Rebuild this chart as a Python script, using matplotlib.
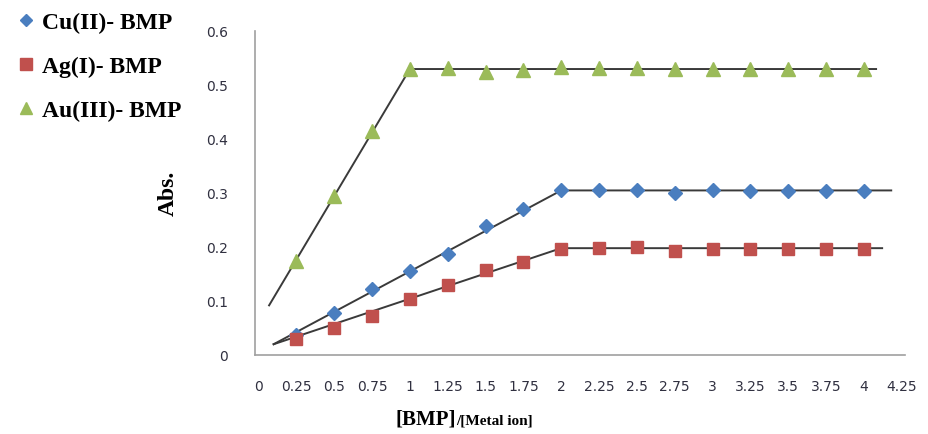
import matplotlib.pyplot as plt
from matplotlib.lines import Line2D

# mole ratio [BMP]/[Metal ion]
ratio = [0.25, 0.5, 0.75, 1, 1.25, 1.5, 1.75, 2, 2.25, 2.5, 2.75, 3, 3.25, 3.5, 3.75, 4]
cu_abs = [0.037, 0.078, 0.123, 0.156, 0.188, 0.240, 0.270, 0.305, 0.306, 0.306, 0.301, 0.306, 0.304, 0.304, 0.304, 0.304]
ag_abs = [0.030, 0.050, 0.072, 0.103, 0.130, 0.158, 0.172, 0.196, 0.198, 0.200, 0.192, 0.196, 0.196, 0.196, 0.196, 0.196]
au_abs = [0.175, 0.294, 0.416, 0.530, 0.531, 0.525, 0.528, 0.534, 0.531, 0.531, 0.530, 0.530, 0.530, 0.530, 0.530, 0.530]

# fitted lines (rise + plateau)
cu_fit_x = [0.1, 2, 4.18]
cu_fit_y = [0.02, 0.305, 0.305]
ag_fit_x = [0.1, 2, 4.12]
ag_fit_y = [0.02, 0.198, 0.198]
au_fit_x = [0.07, 1, 4.08]
au_fit_y = [0.092, 0.53, 0.53]

xticks = [0, 0.25, 0.5, 0.75, 1, 1.25, 1.5, 1.75, 2, 2.25, 2.5, 2.75, 3, 3.25, 3.5, 3.75, 4, 4.25]
xtick_labels = ['0', '0.25', '0.5', '0.75', '1', '1.25', '1.5', '1.75', '2', '2.25', '2.5', '2.75', '3', '3.25', '3.5', '3.75', '4', '4.25']
yticks = [0, 0.1, 0.2, 0.3, 0.4, 0.5, 0.6]

blue = '#4a7ebf'
red = '#c0504d'
green = '#9bbb59'
line_col = '#3a3a3a'

fig = plt.figure(figsize=(9.29, 4.34), dpi=100)
ax = fig.add_axes([0.275, 0.182, 0.699, 0.746])

ax.plot(au_fit_x, au_fit_y, color=line_col, lw=1.4, zorder=2)
ax.plot(cu_fit_x, cu_fit_y, color=line_col, lw=1.4, zorder=2)
ax.plot(ag_fit_x, ag_fit_y, color=line_col, lw=1.4, zorder=2)

ax.plot(ratio, cu_abs, 'D', color=blue, ms=7, mec=blue, zorder=3)
ax.plot(ratio, ag_abs, 's', color=red, ms=9, mec=red, zorder=3)
ax.plot(ratio, au_abs, '^', color=green, ms=10, mec=green, zorder=3)

ax.set_xlim(-0.02, 4.27)
ax.set_ylim(0, 0.6)
ax.set_xticks(xticks)
ax.set_xticklabels(xtick_labels)
ax.set_yticks(yticks)
ax.set_yticklabels(['0', '0.1', '0.2', '0.3', '0.4', '0.5', '0.6'])
ax.tick_params(length=0, labelsize=10, labelcolor='#303040')
ax.tick_params(axis='x', pad=18)
ax.tick_params(axis='y', pad=20)
for s in ['top', 'right']:
    ax.spines[s].set_visible(False)
for s in ['left', 'bottom']:
    ax.spines[s].set_color('#a0a0a0')
    ax.spines[s].set_linewidth(1.2)

serif = 'Liberation Serif'
ax.set_ylabel('Abs.', fontfamily=serif, fontweight='bold', fontsize=17)
ax.yaxis.set_label_coords(-0.118, 0.5)
fig.text(0.491, 0.022, '[BMP]', fontfamily=serif, fontweight='bold', fontsize=15, ha='right', va='baseline')
fig.text(0.491, 0.022, '/[Metal ion]', fontfamily=serif, fontweight='bold', fontsize=11, ha='left', va='baseline')

handles = [
    Line2D([], [], marker='D', ls='', color=blue, ms=6),
    Line2D([], [], marker='s', ls='', color=red, ms=9),
    Line2D([], [], marker='^', ls='', color=green, ms=9),
]
fig.legend(handles, ['Cu(II)- BMP', 'Ag(I)- BMP', 'Au(III)- BMP'],
           loc='upper left', bbox_to_anchor=(0.0, 1.01), frameon=False,
           prop={'family': serif, 'weight': 'bold', 'size': 17},
           handlelength=0.8, handletextpad=0.3, labelspacing=0.95, borderaxespad=0.3)

fig.savefig('out.png', dpi=100)
